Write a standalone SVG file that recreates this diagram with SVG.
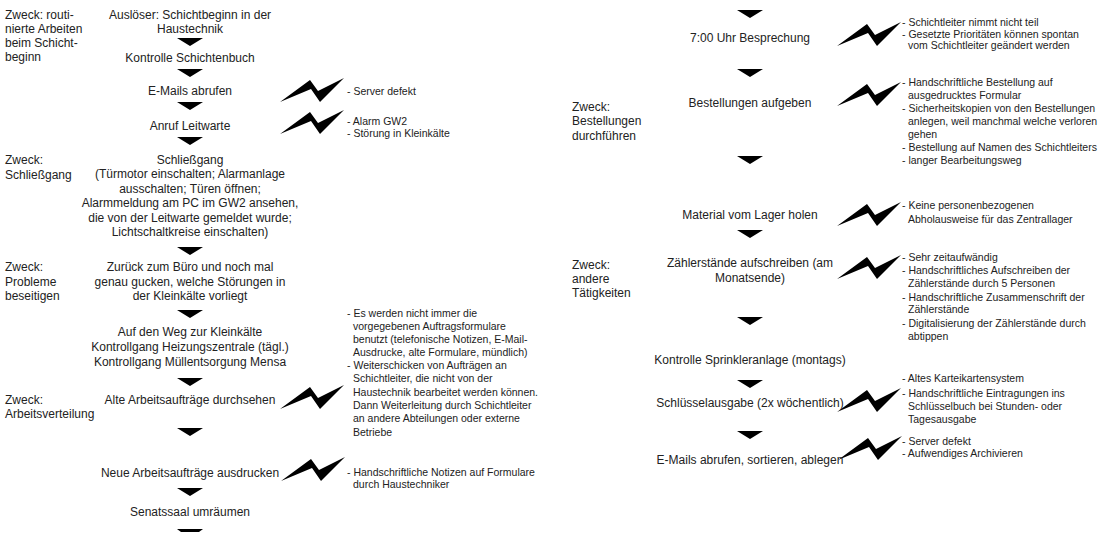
<svg xmlns="http://www.w3.org/2000/svg" xmlns:xlink="http://www.w3.org/1999/xlink" width="1099" height="539" viewBox="0 0 1099 539">
<style>
text{font-family:"Liberation Sans",Arial,sans-serif;fill:#222}
.m{font-size:12px;text-anchor:middle}
.l{font-size:12px}
.c{font-size:10.5px}
.tri{fill:#000}
.bolt{fill:#000}
</style>
<defs>
<path id="bolt" d="M0,24 L30,2 L38,13 L64,0 L40,24 L31,11 Z"/>
<polygon id="tri" points="0,0 26,0 13,8"/>
</defs>
<rect width="1099" height="539" fill="#fff"/>

<g id="connectors">
  <use href="#tri" class="tri" x="177" y="38"/>
  <use href="#tri" class="tri" x="177" y="69"/>
  <use href="#tri" class="tri" x="177" y="102"/>
  <use href="#tri" class="tri" x="177" y="137"/>
  <use href="#tri" class="tri" x="177" y="247"/>
  <use href="#tri" class="tri" x="177" y="310"/>
  <use href="#tri" class="tri" x="177" y="378"/>
  <use href="#tri" class="tri" x="177" y="428"/>
  <use href="#tri" class="tri" x="177" y="488"/>
  <polygon class="tri" points="177,529 203,529 199,532 181,532"/>
  <use href="#tri" class="tri" x="737" y="10"/>
  <use href="#tri" class="tri" x="737" y="69"/>
  <use href="#tri" class="tri" x="737" y="156"/>
  <use href="#tri" class="tri" x="737" y="230"/>
  <use href="#tri" class="tri" x="737" y="317"/>
  <use href="#tri" class="tri" x="737" y="380"/>
  <use href="#tri" class="tri" x="737" y="431"/>
  <use href="#bolt" class="bolt" x="280" y="78"/>
  <use href="#bolt" class="bolt" x="280" y="110"/>
  <use href="#bolt" class="bolt" x="280" y="385"/>
  <use href="#bolt" class="bolt" x="281" y="457"/>
  <use href="#bolt" class="bolt" x="837" y="22"/>
  <use href="#bolt" class="bolt" x="837" y="82"/>
  <use href="#bolt" class="bolt" x="837" y="202"/>
  <use href="#bolt" class="bolt" x="837" y="255"/>
  <use href="#bolt" class="bolt" x="837" y="388"/>
  <use href="#bolt" class="bolt" x="838" y="436"/>
</g>

<g id="label-routine">
  <text class="l" x="5" y="19">Zweck: routi-</text>
  <text class="l" x="5" y="33">nierte Arbeiten</text>
  <text class="l" x="5" y="47">beim Schicht-</text>
  <text class="l" x="5" y="61">beginn</text>
</g>
<g id="label-schliessgang">
  <text class="l" x="5" y="164">Zweck:</text>
  <text class="l" x="5" y="178.5">Schließgang</text>
</g>
<g id="label-probleme">
  <text class="l" x="5" y="271">Zweck:</text>
  <text class="l" x="5" y="285.5">Probleme</text>
  <text class="l" x="5" y="300">beseitigen</text>
</g>
<g id="label-arbeitsverteilung">
  <text class="l" x="5" y="404">Zweck:</text>
  <text class="l" x="5" y="418">Arbeitsverteilung</text>
</g>

<g id="n-ausloeser">
  <text class="m" x="190" y="19">Auslöser: Schichtbeginn in der</text>
  <text class="m" x="190" y="33">Haustechnik</text>
</g>
<g id="n-schichtenbuch"><text class="m" x="190" y="62">Kontrolle Schichtenbuch</text></g>
<g id="n-emails"><text class="m" x="190" y="95">E-Mails abrufen</text></g>
<g id="n-leitwarte"><text class="m" x="190" y="130">Anruf Leitwarte</text></g>
<g id="n-schliessgang">
  <text class="m" x="190" y="164">Schließgang</text>
  <text class="m" x="190" y="178.4">(Türmotor einschalten; Alarmanlage</text>
  <text class="m" x="190" y="192.8">ausschalten; Türen öffnen;</text>
  <text class="m" x="190" y="207.2">Alarmmeldung am PC im GW2 ansehen,</text>
  <text class="m" x="190" y="221.6">die von der Leitwarte gemeldet wurde;</text>
  <text class="m" x="190" y="236">Lichtschaltkreise einschalten)</text>
</g>
<g id="n-buero">
  <text class="m" x="190" y="271">Zurück zum Büro und noch mal</text>
  <text class="m" x="190" y="285.5">genau gucken, welche Störungen in</text>
  <text class="m" x="190" y="300">der Kleinkälte vorliegt</text>
</g>
<g id="n-kleinkaelte">
  <text class="m" x="190" y="336">Auf den Weg zur Kleinkälte</text>
  <text class="m" x="190" y="351">Kontrollgang Heizungszentrale (tägl.)</text>
  <text class="m" x="190" y="366">Kontrollgang Müllentsorgung Mensa</text>
</g>
<g id="n-alte"><text class="m" x="190" y="404">Alte Arbeitsaufträge durchsehen</text></g>
<g id="n-neue"><text class="m" x="190" y="477">Neue Arbeitsaufträge ausdrucken</text></g>
<g id="n-senatssaal"><text class="m" x="190" y="516">Senatssaal umräumen</text></g>

<g id="c-emails">
  <text class="c" x="347" y="95">- Server defekt</text>
</g>
<g id="c-leitwarte">
  <text class="c" x="347" y="125">- Alarm GW2</text>
  <text class="c" x="347" y="136.5">- Störung in Kleinkälte</text>
</g>
<g id="c-alte">
  <text class="c" x="347" y="317">- Es werden nicht immer die</text>
  <text class="c" x="353" y="330">vorgegebenen Auftragsformulare</text>
  <text class="c" x="353" y="343">benutzt (telefonische Notizen, E-Mail-</text>
  <text class="c" x="353" y="356">Ausdrucke, alte Formulare, mündlich)</text>
  <text class="c" x="347" y="369">- Weiterschicken von Aufträgen an</text>
  <text class="c" x="353" y="382">Schichtleiter, die nicht von der</text>
  <text class="c" x="353" y="396">Haustechnik bearbeitet werden können.</text>
  <text class="c" x="353" y="409">Dann Weiterleitung durch Schichtleiter</text>
  <text class="c" x="353" y="422">an andere Abteilungen oder externe</text>
  <text class="c" x="353" y="436">Betriebe</text>
</g>
<g id="c-neue">
  <text class="c" x="347" y="476">- Handschriftliche Notizen auf Formulare</text>
  <text class="c" x="353" y="488">durch Haustechniker</text>
</g>

<g id="label-bestellungen">
  <text class="l" x="572" y="111">Zweck:</text>
  <text class="l" x="572" y="125">Bestellungen</text>
  <text class="l" x="572" y="140">durchführen</text>
</g>
<g id="label-andere">
  <text class="l" x="572" y="269">Zweck:</text>
  <text class="l" x="572" y="283">andere</text>
  <text class="l" x="572" y="297">Tätigkeiten</text>
</g>

<g id="n-besprechung"><text class="m" x="750" y="42">7:00 Uhr Besprechung</text></g>
<g id="n-bestellungen"><text class="m" x="750" y="107">Bestellungen aufgeben</text></g>
<g id="n-material"><text class="m" x="750" y="219">Material vom Lager holen</text></g>
<g id="n-zaehler">
  <text class="m" x="750" y="267">Zählerstände aufschreiben (am</text>
  <text class="m" x="750" y="282">Monatsende)</text>
</g>
<g id="n-sprinkler"><text class="m" x="750" y="364">Kontrolle Sprinkleranlage (montags)</text></g>
<g id="n-schluessel"><text class="m" x="750" y="407">Schlüsselausgabe (2x wöchentlich)</text></g>
<g id="n-emails2"><text class="m" x="750" y="464">E-Mails abrufen, sortieren, ablegen</text></g>

<g id="c-besprechung">
  <text class="c" x="902" y="25.5">- Schichtleiter nimmt nicht teil</text>
  <text class="c" x="902" y="37.5">- Gesetzte Prioritäten können spontan</text>
  <text class="c" x="908" y="49">vom Schichtleiter geändert werden</text>
</g>
<g id="c-bestellungen">
  <text class="c" x="902" y="86">- Handschriftliche Bestellung auf</text>
  <text class="c" x="908" y="99">ausgedrucktes Formular</text>
  <text class="c" x="902" y="112">- Sicherheitskopien von den Bestellungen</text>
  <text class="c" x="908" y="125">anlegen, weil manchmal welche verloren</text>
  <text class="c" x="908" y="137.5">gehen</text>
  <text class="c" x="902" y="151">- Bestellung auf Namen des Schichtleiters</text>
  <text class="c" x="902" y="164">- langer Bearbeitungsweg</text>
</g>
<g id="c-material">
  <text class="c" x="902" y="209">- Keine personenbezogenen</text>
  <text class="c" x="908" y="223">Abholausweise für das Zentrallager</text>
</g>
<g id="c-zaehler">
  <text class="c" x="902" y="261">- Sehr zeitaufwändig</text>
  <text class="c" x="902" y="274">- Handschriftliches Aufschreiben der</text>
  <text class="c" x="908" y="287">Zählerstände durch 5 Personen</text>
  <text class="c" x="902" y="301">- Handschriftliche Zusammenschrift der</text>
  <text class="c" x="908" y="313">Zählerstände</text>
  <text class="c" x="902" y="327">- Digitalisierung der Zählerstände durch</text>
  <text class="c" x="908" y="340">abtippen</text>
</g>
<g id="c-schluessel">
  <text class="c" x="902" y="382">- Altes Karteikartensystem</text>
  <text class="c" x="902" y="397">- Handschriftliche Eintragungen ins</text>
  <text class="c" x="908" y="410">Schlüsselbuch bei Stunden- oder</text>
  <text class="c" x="908" y="423">Tagesausgabe</text>
</g>
<g id="c-emails2">
  <text class="c" x="902" y="445">- Server defekt</text>
  <text class="c" x="902" y="457">- Aufwendiges Archivieren</text>
</g>
</svg>
